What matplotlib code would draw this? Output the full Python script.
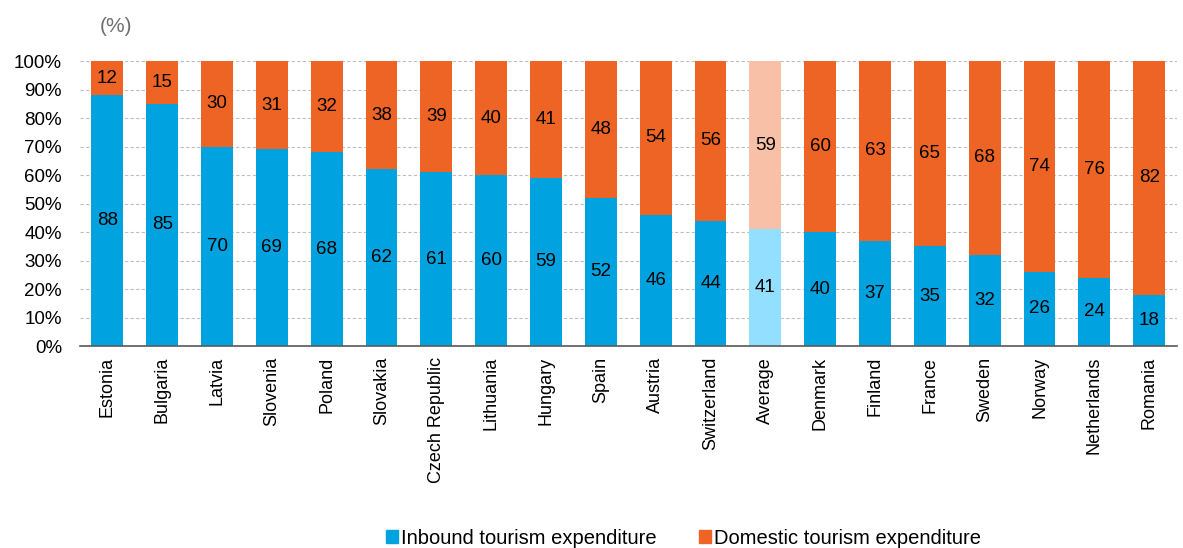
import numpy as np
import matplotlib.pyplot as plt

plt.rcParams['font.family'] = ['Liberation Sans', 'DejaVu Sans']

countries = ['Estonia', 'Bulgaria', 'Latvia', 'Slovenia', 'Poland', 'Slovakia',
             'Czech Republic', 'Lithuania', 'Hungary', 'Spain', 'Austria',
             'Switzerland', 'Average', 'Denmark', 'Finland', 'France', 'Sweden',
             'Norway', 'Netherlands', 'Romania']
inbound = [88, 85, 70, 69, 68, 62, 61, 60, 59, 52, 46, 44, 41, 40, 37, 35, 32, 26, 24, 18]
domestic = [12, 15, 30, 31, 32, 38, 39, 40, 41, 48, 54, 56, 59, 60, 63, 65, 68, 74, 76, 82]

blue = '#00A3E0'
orange = '#EE6424'
blue_avg = '#93DFFF'
orange_avg = '#F8C0A6'

x = np.arange(len(countries))
c_in = [blue_avg if c == 'Average' else blue for c in countries]
c_dom = [orange_avg if c == 'Average' else orange for c in countries]

fig = plt.figure(figsize=(11.83, 5.48), dpi=100)
ax = fig.add_axes([0.0676, 0.3686, 0.927, 0.52])

ax.bar(x, inbound, width=0.58, color=c_in, zorder=2)
ax.bar(x, domestic, width=0.58, bottom=inbound, color=c_dom, zorder=2)

for i in range(len(countries)):
    ax.text(x[i], inbound[i] / 2, str(inbound[i]), ha='center', va='center',
            fontsize=13.5, color='black', zorder=3)
    ax.text(x[i], inbound[i] + domestic[i] / 2, str(domestic[i]), ha='center',
            va='center', fontsize=13.5, color='black', zorder=3)

ax.set_xlim(-0.5, len(countries) - 0.5)
ax.set_ylim(0, 100)
ax.set_yticks(range(0, 101, 10))
ax.set_yticklabels(['{}%'.format(v) for v in range(0, 101, 10)], fontsize=13.5)
ax.set_xticks(x)
ax.set_xticklabels(countries, rotation=90, fontsize=13)
ax.tick_params(axis='both', length=0)
ax.tick_params(axis='y', pad=13)
ax.tick_params(axis='x', pad=8)
ax.yaxis.grid(True, color='#BFBFBF', linestyle=(0, (3, 2)), linewidth=0.8, zorder=0)

for s in ['top', 'right', 'left']:
    ax.spines[s].set_visible(False)
ax.spines['bottom'].set_color('#595959')
ax.spines['bottom'].set_linewidth(1.2)
ax.spines['bottom'].set_zorder(4)

fig.text(0.098, 0.952, '(%)', fontsize=15, color='#6E6E6E', ha='center', va='center')

h1 = plt.Rectangle((0, 0), 1, 1, color=blue)
h2 = plt.Rectangle((0, 0), 1, 1, color=orange)
fig.legend([h1, h2], ['Inbound tourism expenditure', 'Domestic tourism expenditure'],
           loc='center', bbox_to_anchor=(0.578, 0.018), ncol=2, frameon=False,
           fontsize=14.5, handlelength=0.6, handleheight=0.6, handletextpad=0.15,
           columnspacing=2.1)

plt.savefig('out.png', dpi=100)
